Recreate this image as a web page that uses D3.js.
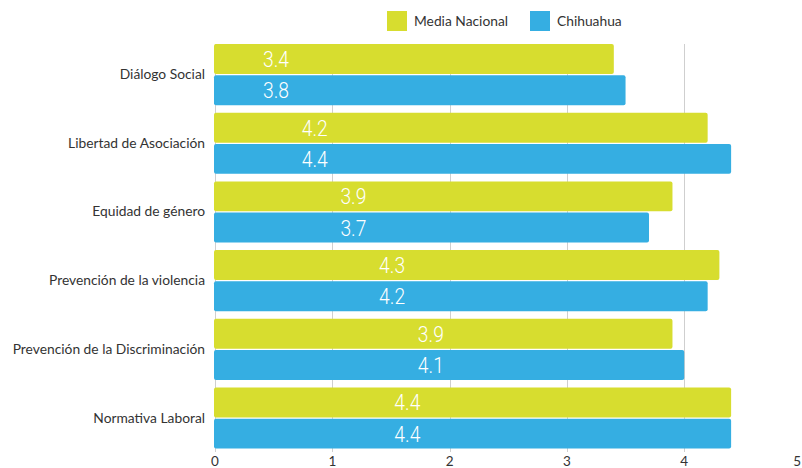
<!DOCTYPE html>
<html>
<head>
<meta charset="utf-8">
<script src="https://cdn.jsdelivr.net/npm/d3@7"></script>
<style>
  body { margin: 0; background: #fff; }
  #chart-area { width: 802px; height: 468px; }
</style>
</head>
<body>
<div id="chart-area"></div>
<script>
// Chart data
var categories = ["Diálogo Social", "Libertad de Asociación", "Equidad de género",
    "Prevención de la violencia", "Prevención de la Discriminación", "Normativa Laboral"];
var seriesNames = ["Media Nacional", "Chihuahua"];
var nacional = [3.4, 4.2, 3.9, 4.3, 3.9, 4.4];
var chihuahua = [3.5, 4.4, 3.7, 4.2, 4.0, 4.4];
var nacionalLabels = ["3.4", "4.2", "3.9", "4.3", "3.9", "4.4"];
var chihuahuaLabels = ["3.8", "4.4", "3.7", "4.2", "4.1", "4.4"];
var xTicks = [0, 1, 2, 3, 4, 5];

// Where the value labels sit along each row (axis units)
var labelAt = [0.52, 0.85, 1.18, 1.51, 1.84, 1.64];

var colors = ["#d7dd2f", "#35aee2"];

var width = 802;
var height = 468;

var svg = d3.select("#chart-area")
    .append("svg")
    .attr("width", width)
    .attr("height", height);

var x = d3.scaleLinear()
    .domain([0, 5])
    .range([215, 801.5]);

var y0 = d3.scaleBand()
    .domain(categories)
    .range([44, 448.6])
    .paddingInner(0.11)
    .paddingOuter(0)
    .align(0);

var y1 = d3.scaleBand()
    .domain(seriesNames)
    .range([0, y0.bandwidth()])
    .paddingInner(0.04);

// Gridlines
svg.append("g")
    .selectAll("line")
    .data(xTicks)
    .enter()
    .append("line")
    .attr("x1", d => Math.round(x(d)) + 0.5)
    .attr("x2", d => Math.round(x(d)) + 0.5)
    .attr("y1", 44)
    .attr("y2", 452)
    .attr("stroke", "#cfcfcf")
    .attr("stroke-width", 1);

// Bottom tick labels (last one kept inside the frame)
svg.append("g")
    .selectAll("text")
    .data(xTicks)
    .enter()
    .append("text")
    .attr("x", (d, i) => i === xTicks.length - 1 ? width - 1 : x(d))
    .attr("y", 466)
    .attr("text-anchor", (d, i) => i === xTicks.length - 1 ? "end" : "middle")
    .attr("font-family", "Lato, sans-serif")
    .attr("font-size", "13.5px")
    .attr("fill", "#333")
    .text(d => d);

// Build rows
var rows = categories.map((c, i) => ({
    name: c,
    values: [
        { series: seriesNames[0], value: nacional[i], label: nacionalLabels[i], color: colors[0] },
        { series: seriesNames[1], value: chihuahua[i], label: chihuahuaLabels[i], color: colors[1] }
    ],
    at: labelAt[i]
}));

var groups = svg.append("g")
    .selectAll("g")
    .data(rows)
    .enter()
    .append("g")
    .attr("transform", d => `translate(0, ${y0(d.name)})`);

groups.selectAll("rect")
    .data(d => d.values)
    .enter()
    .append("rect")
    .attr("x", x(0) - 1)
    .attr("y", d => y1(d.series))
    .attr("width", d => x(d.value) - x(0) + 1)
    .attr("height", y1.bandwidth())
    .attr("rx", 2)
    .attr("fill", d => d.color);

// Value labels, squeezed to look condensed
groups.each(function (row) {
    d3.select(this).selectAll("text")
        .data(row.values)
        .enter()
        .append("text")
        .attr("x", x(row.at))
        .attr("y", d => y1(d.series) + y1.bandwidth() / 2 + 8)
        .attr("text-anchor", "middle")
        .attr("font-family", "Roboto, sans-serif")
        .attr("font-weight", 300)
        .attr("font-size", "22.5px")
        .attr("textLength", 26)
        .attr("lengthAdjust", "spacingAndGlyphs")
        .attr("fill", "#fff")
        .text(d => d.label);
});

// Category labels
svg.append("g")
    .selectAll("text")
    .data(categories)
    .enter()
    .append("text")
    .attr("x", 205)
    .attr("y", d => y0(d) + y0.bandwidth() / 2 + 4.5)
    .attr("text-anchor", "end")
    .attr("font-family", "Lato, sans-serif")
    .attr("font-size", "13.8px")
    .attr("fill", "#333")
    .text(d => d);

// Legend
var legendX = [387, 530];
var legend = svg.append("g")
    .selectAll("g")
    .data(seriesNames)
    .enter()
    .append("g")
    .attr("transform", (d, i) => `translate(${legendX[i]}, 11)`);

legend.append("rect")
    .attr("width", 20)
    .attr("height", 20)
    .attr("fill", (d, i) => colors[i]);

legend.append("text")
    .attr("x", 27)
    .attr("y", 15)
    .attr("font-family", "Lato, sans-serif")
    .attr("font-size", "13.8px")
    .attr("fill", "#333")
    .text(d => d);
</script>
</body>
</html>
